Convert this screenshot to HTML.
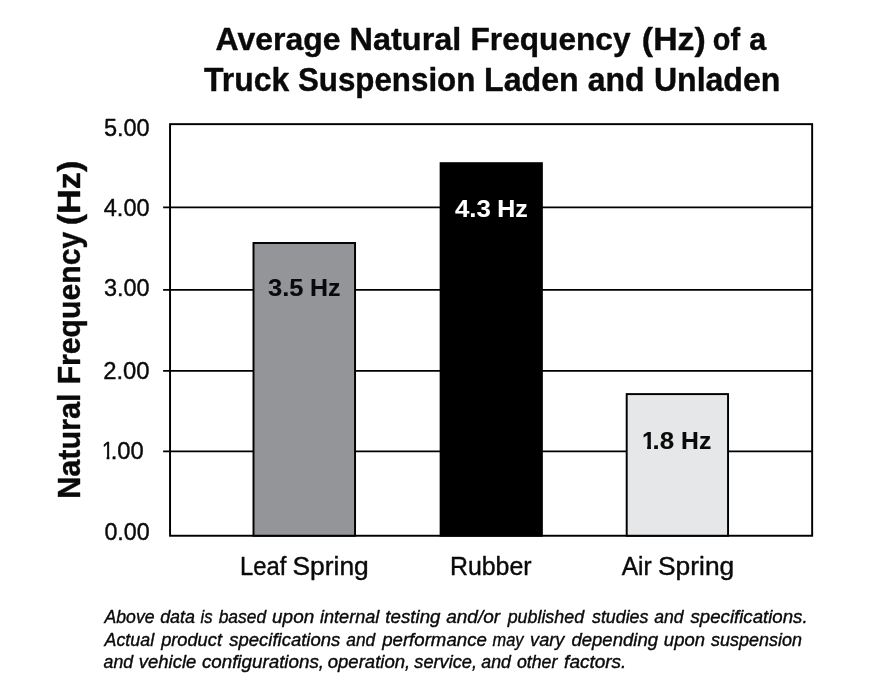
<!DOCTYPE html>
<html lang="en">
<head>
<meta charset="utf-8">
<title>Average Natural Frequency (Hz) of a Truck Suspension Laden and Unladen</title>
<style>
html,body{margin:0;padding:0;background:#fff;}
body{width:880px;height:700px;overflow:hidden;}
svg{display:block;}
text{font-family:"Liberation Sans",Arial,Helvetica,sans-serif;fill:#0a0a0a;stroke:#0a0a0a;stroke-linejoin:round;white-space:pre;}
.b{font-weight:bold;}
.i{font-style:italic;}
</style>
</head>
<body>
<svg width="880" height="700" viewBox="0 0 880 700">
<rect x="0" y="0" width="880" height="700" fill="#ffffff"/>
<!-- gridlines -->
<g stroke="#000" stroke-width="1.65" fill="none">
<line x1="163.1" y1="207.4" x2="812" y2="207.4"/>
<line x1="163.1" y1="289.9" x2="812" y2="289.9"/>
<line x1="163.1" y1="370.9" x2="812" y2="370.9"/>
<line x1="163.1" y1="451.3" x2="812" y2="451.3"/>
</g>
<!-- frame -->
<rect x="170.05" y="124.15" width="642.1" height="411.6" fill="none" stroke="#000" stroke-width="1.95"/>
<!-- bars -->
<rect x="253.5" y="243" width="101.55" height="292.75" fill="#939598" stroke="#000" stroke-width="1.95"/>
<rect x="439.65" y="162.2" width="103.2" height="374.5" fill="#000"/>
<rect x="626.7" y="394.1" width="101.35" height="141.65" fill="#e6e7e8" stroke="#000" stroke-width="1.95"/>
<defs><clipPath id="k1"><polygon points="93.80,419.45 112.10,419.45 112.10,457 109.35,457 109.35,471.45 106.69,471.45 106.69,457 93.80,457"/><rect x="112.50" y="419.45" width="120" height="52"/></clipPath><clipPath id="k2"><polygon points="633.50,409.2 653.70,409.2 653.70,446 650.95,446 650.95,461.2 647.13,461.2 647.13,446 633.50,446"/><rect x="654.10" y="409.2" width="120" height="52"/></clipPath></defs>
<!-- text -->
<text id="t1" class="b" font-size="32.12" stroke-width="0.4"><tspan x="215.5" y="50.0" textLength="125.07" lengthAdjust="spacingAndGlyphs">Average</tspan> <tspan x="349.55" y="50.0" textLength="111.82" lengthAdjust="spacingAndGlyphs">Natural</tspan> <tspan x="470.55" y="50.0" textLength="159.93" lengthAdjust="spacingAndGlyphs">Frequency</tspan> <tspan x="641.89" y="50.0" textLength="63.86" lengthAdjust="spacingAndGlyphs">(Hz)</tspan> <tspan x="712.77" y="50.0" textLength="27.24" lengthAdjust="spacingAndGlyphs">of</tspan> <tspan x="749.35" y="50.0" textLength="16.93" lengthAdjust="spacingAndGlyphs">a</tspan></text>
<text id="t2" class="b" font-size="32.41" stroke-width="0.4"><tspan x="204.0" y="90.55" textLength="85.17" lengthAdjust="spacingAndGlyphs">Truck</tspan> <tspan x="297.88" y="90.55" textLength="177.48" lengthAdjust="spacingAndGlyphs">Suspension</tspan> <tspan x="484.06" y="90.55" textLength="94.61" lengthAdjust="spacingAndGlyphs">Laden</tspan> <tspan x="587.7" y="90.55" textLength="56.82" lengthAdjust="spacingAndGlyphs">and</tspan> <tspan x="653.92" y="90.55" textLength="126.43" lengthAdjust="spacingAndGlyphs">Unladen</tspan></text>
<text id="y5" class="r" font-size="24.56" stroke-width="0.4"><tspan x="103.88" y="135.75" textLength="45.82" lengthAdjust="spacingAndGlyphs">5.00</tspan></text>
<text id="y4" class="r" font-size="24.56" stroke-width="0.4"><tspan x="103.76" y="216.05" textLength="45.83" lengthAdjust="spacingAndGlyphs">4.00</tspan></text>
<text id="y3" class="r" font-size="24.56" stroke-width="0.4"><tspan x="103.89" y="296.45" textLength="45.69" lengthAdjust="spacingAndGlyphs">3.00</tspan></text>
<text id="y2" class="r" font-size="24.56" stroke-width="0.4"><tspan x="103.18" y="378.95" textLength="46.42" lengthAdjust="spacingAndGlyphs">2.00</tspan></text>
<text id="y1" class="r" font-size="24.56" stroke-width="0.4" clip-path="url(#k1)"><tspan x="102.03" y="459.25" textLength="11.41" lengthAdjust="spacingAndGlyphs">1</tspan><tspan x="110.69" y="459.25" textLength="33.08" lengthAdjust="spacingAndGlyphs">.00</tspan></text>
<text id="y0" class="r" font-size="24.56" stroke-width="0.4"><tspan x="104.4" y="540.45" textLength="45.31" lengthAdjust="spacingAndGlyphs">0.00</tspan></text>
<text id="yt" class="b" font-size="31.69" stroke-width="0.4" transform="translate(80.1 497.0) rotate(-90)"><tspan x="-1.83" y="-0.2" textLength="105.37" lengthAdjust="spacingAndGlyphs">Natural</tspan> <tspan x="112.69" y="-0.2" textLength="152.52" lengthAdjust="spacingAndGlyphs">Frequency</tspan> <tspan x="271.7" y="-0.2" textLength="64.67" lengthAdjust="spacingAndGlyphs">(Hz)</tspan></text>
<text id="b1" class="b" font-size="24.13" stroke-width="0.1"><tspan x="268.02" y="296.35" textLength="35.51" lengthAdjust="spacingAndGlyphs">3.5</tspan> <tspan x="310.04" y="296.35" textLength="30.55" lengthAdjust="spacingAndGlyphs">Hz</tspan></text>
<text id="b2" class="b" font-size="24.13" stroke-width="0.1" style="fill:#ffffff;stroke:#ffffff"><tspan x="454.94" y="216.95" textLength="35.9" lengthAdjust="spacingAndGlyphs">4.3</tspan> <tspan x="497.26" y="216.95" textLength="30.55" lengthAdjust="spacingAndGlyphs">Hz</tspan></text>
<text id="b3" class="b" font-size="24.13" stroke-width="0.1" clip-path="url(#k2)"><tspan x="641.92" y="449.15" textLength="13.25" lengthAdjust="spacingAndGlyphs">1</tspan><tspan x="652.58" y="449.15" textLength="21.59" lengthAdjust="spacingAndGlyphs">.8</tspan> <tspan x="681.1" y="449.15" textLength="30.19" lengthAdjust="spacingAndGlyphs">Hz</tspan></text>
<text id="c1" class="r" font-size="25.29" stroke-width="0.4"><tspan x="239.99" y="574.7" textLength="46.35" lengthAdjust="spacingAndGlyphs">Leaf</tspan> <tspan x="292.5" y="574.7" textLength="76.31" lengthAdjust="spacingAndGlyphs">Spring</tspan></text>
<text id="c2" class="r" font-size="25.29" stroke-width="0.4"><tspan x="449.91" y="574.7" textLength="81.66" lengthAdjust="spacingAndGlyphs">Rubber</tspan></text>
<text id="c3" class="r" font-size="25.29" stroke-width="0.4"><tspan x="621.7" y="574.7" textLength="29.97" lengthAdjust="spacingAndGlyphs">Air</tspan> <tspan x="658.0" y="574.7" textLength="76.26" lengthAdjust="spacingAndGlyphs">Spring</tspan></text>
<text id="f1" class="i" font-size="19.19" stroke-width="0.4"><tspan x="104.55" y="622.7" textLength="49.98" lengthAdjust="spacingAndGlyphs">Above</tspan> <tspan x="160.14" y="622.7" textLength="34.9" lengthAdjust="spacingAndGlyphs">data</tspan> <tspan x="200.44" y="622.7" textLength="12.02" lengthAdjust="spacingAndGlyphs">is</tspan> <tspan x="218.67" y="622.7" textLength="47.44" lengthAdjust="spacingAndGlyphs">based</tspan> <tspan x="272.08" y="622.7" textLength="42.16" lengthAdjust="spacingAndGlyphs">upon</tspan> <tspan x="319.92" y="622.7" textLength="59.5" lengthAdjust="spacingAndGlyphs">internal</tspan> <tspan x="385.36" y="622.7" textLength="55.19" lengthAdjust="spacingAndGlyphs">testing</tspan> <tspan x="446.22" y="622.7" textLength="53.85" lengthAdjust="spacingAndGlyphs">and/or</tspan> <tspan x="507.64" y="622.7" textLength="76.47" lengthAdjust="spacingAndGlyphs">published</tspan> <tspan x="591.98" y="622.7" textLength="56.46" lengthAdjust="spacingAndGlyphs">studies</tspan> <tspan x="654.3" y="622.7" textLength="29.36" lengthAdjust="spacingAndGlyphs">and</tspan> <tspan x="690.53" y="622.7" textLength="117.04" lengthAdjust="spacingAndGlyphs">specifications.</tspan></text>
<text id="f2" class="i" font-size="19.19" stroke-width="0.4"><tspan x="104.56" y="645.9" textLength="49.54" lengthAdjust="spacingAndGlyphs">Actual</tspan> <tspan x="161.15" y="645.9" textLength="60.8" lengthAdjust="spacingAndGlyphs">product</tspan> <tspan x="229.25" y="645.9" textLength="110.97" lengthAdjust="spacingAndGlyphs">specifications</tspan> <tspan x="346.25" y="645.9" textLength="28.92" lengthAdjust="spacingAndGlyphs">and</tspan> <tspan x="382.16" y="645.9" textLength="104.68" lengthAdjust="spacingAndGlyphs">performance</tspan> <tspan x="492.55" y="645.9" textLength="30.98" lengthAdjust="spacingAndGlyphs">may</tspan> <tspan x="530.05" y="645.9" textLength="34.37" lengthAdjust="spacingAndGlyphs">vary</tspan> <tspan x="571.39" y="645.9" textLength="86.76" lengthAdjust="spacingAndGlyphs">depending</tspan> <tspan x="663.87" y="645.9" textLength="41.07" lengthAdjust="spacingAndGlyphs">upon</tspan> <tspan x="711.03" y="645.9" textLength="90.91" lengthAdjust="spacingAndGlyphs">suspension</tspan></text>
<text id="f3" class="i" font-size="19.19" stroke-width="0.4"><tspan x="103.53" y="668.3" textLength="29.59" lengthAdjust="spacingAndGlyphs">and</tspan> <tspan x="138.71" y="668.3" textLength="57.63" lengthAdjust="spacingAndGlyphs">vehicle</tspan> <tspan x="201.88" y="668.3" textLength="122.15" lengthAdjust="spacingAndGlyphs">configurations,</tspan> <tspan x="327.72" y="668.3" textLength="82.52" lengthAdjust="spacingAndGlyphs">operation,</tspan> <tspan x="414.3" y="668.3" textLength="62.73" lengthAdjust="spacingAndGlyphs">service,</tspan> <tspan x="481.3" y="668.3" textLength="29.59" lengthAdjust="spacingAndGlyphs">and</tspan> <tspan x="516.92" y="668.3" textLength="40.48" lengthAdjust="spacingAndGlyphs">other</tspan> <tspan x="564.11" y="668.3" textLength="62.23" lengthAdjust="spacingAndGlyphs">factors.</tspan></text>
</svg>
</body>
</html>
